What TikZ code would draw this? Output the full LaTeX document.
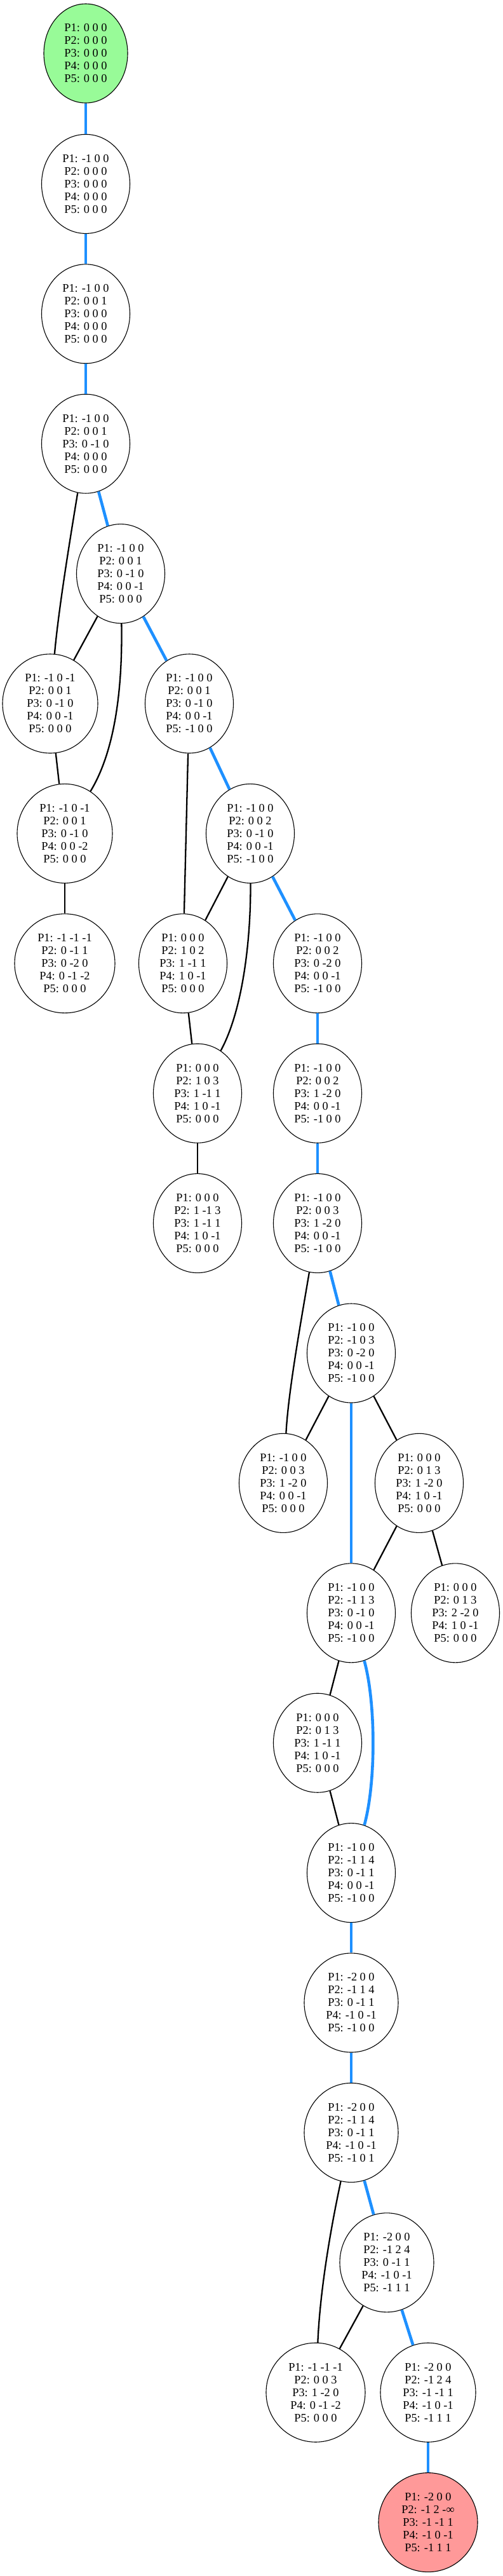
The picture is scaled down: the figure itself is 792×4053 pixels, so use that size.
\documentclass[tikz,border=0pt]{standalone}
\usepackage{fontspec}
\setmainfont{Liberation Serif}
\usetikzlibrary{shapes.geometric}
\definecolor{edgeblue}{HTML}{1E90FF}
\definecolor{startgreen}{HTML}{98FB98}
\definecolor{endred}{HTML}{FF9999}
\begin{document}
\begin{tikzpicture}[x=1pt,y=-1pt,
  st/.style={ellipse, draw=black, line width=1.1pt, fill=white, inner sep=0pt,
    minimum height=156pt, minimum width=139pt, align=center,
    font=\fontsize{18.3}{20}\selectfont},
  wa/.style={minimum width=132pt},
  wb/.style={minimum width=148pt},
  wc/.style={minimum width=150pt},
  wd/.style={minimum width=156pt},
  we/.style={minimum width=158pt},
  bl/.style={draw=edgeblue, line width=4.6pt},
  bk/.style={draw=black, line width=2.3pt}]
\useasboundingbox (0,0) rectangle (792,4053);
% nodes
\node[st,wa,fill=startgreen] (N1) at (135,84) {P1: 0 0 0\\P2: 0 0 0\\P3: 0 0 0\\P4: 0 0 0\\P5: 0 0 0};
\node[st] (N2) at (135,289.4) {P1: -1 0 0\\P2: 0 0 0\\P3: 0 0 0\\P4: 0 0 0\\P5: 0 0 0};
\node[st] (N3) at (135,493.8) {P1: -1 0 0\\P2: 0 0 1\\P3: 0 0 0\\P4: 0 0 0\\P5: 0 0 0};
\node[st] (N4) at (135,698.2) {P1: -1 0 0\\P2: 0 0 1\\P3: 0 -1 0\\P4: 0 0 0\\P5: 0 0 0};
\node[st] (N5) at (190,902.6) {P1: -1 0 0\\P2: 0 0 1\\P3: 0 -1 0\\P4: 0 0 -1\\P5: 0 0 0};
\node[st,wc] (N6) at (79,1107) {P1: -1 0 -1\\P2: 0 0 1\\P3: 0 -1 0\\P4: 0 0 -1\\P5: 0 0 0};
\node[st] (N7) at (298,1107) {P1: -1 0 0\\P2: 0 0 1\\P3: 0 -1 0\\P4: 0 0 -1\\P5: -1 0 0};
\node[st,wc] (N8) at (102,1311.4) {P1: -1 0 -1\\P2: 0 0 1\\P3: 0 -1 0\\P4: 0 0 -2\\P5: 0 0 0};
\node[st] (N9) at (394,1311.4) {P1: -1 0 0\\P2: 0 0 2\\P3: 0 -1 0\\P4: 0 0 -1\\P5: -1 0 0};
\node[st,we] (N11) at (102,1515.8) {P1: -1 -1 -1\\P2: 0 -1 1\\P3: 0 -2 0\\P4: 0 -1 -2\\P5: 0 0 0};
\node[st] (N10) at (288,1515.8) {P1: 0 0 0\\P2: 1 0 2\\P3: 1 -1 1\\P4: 1 0 -1\\P5: 0 0 0};
\node[st] (R0) at (500,1515.8) {P1: -1 0 0\\P2: 0 0 2\\P3: 0 -2 0\\P4: 0 0 -1\\P5: -1 0 0};
\node[st] (M1) at (311,1720.2) {P1: 0 0 0\\P2: 1 0 3\\P3: 1 -1 1\\P4: 1 0 -1\\P5: 0 0 0};
\node[st] (R1) at (500,1720.2) {P1: -1 0 0\\P2: 0 0 2\\P3: 1 -2 0\\P4: 0 0 -1\\P5: -1 0 0};
\node[st] (M2) at (311,1924.6) {P1: 0 0 0\\P2: 1 -1 3\\P3: 1 -1 1\\P4: 1 0 -1\\P5: 0 0 0};
\node[st] (R2) at (500,1924.6) {P1: -1 0 0\\P2: 0 0 3\\P3: 1 -2 0\\P4: 0 0 -1\\P5: -1 0 0};
\node[st] (R3) at (553,2129) {P1: -1 0 0\\P2: -1 0 3\\P3: 0 -2 0\\P4: 0 0 -1\\P5: -1 0 0};
\node[st] (L4) at (446,2333.4) {P1: -1 0 0\\P2: 0 0 3\\P3: 1 -2 0\\P4: 0 0 -1\\P5: 0 0 0};
\node[st] (R4) at (660,2333.4) {P1: 0 0 0\\P2: 0 1 3\\P3: 1 -2 0\\P4: 1 0 -1\\P5: 0 0 0};
\node[st] (R5) at (553,2537.8) {P1: -1 0 0\\P2: -1 1 3\\P3: 0 -1 0\\P4: 0 0 -1\\P5: -1 0 0};
\node[st] (RR5) at (717,2537.8) {P1: 0 0 0\\P2: 0 1 3\\P3: 2 -2 0\\P4: 1 0 -1\\P5: 0 0 0};
\node[st] (M6) at (500,2742.2) {P1: 0 0 0\\P2: 0 1 3\\P3: 1 -1 1\\P4: 1 0 -1\\P5: 0 0 0};
\node[st] (R7) at (553,2946.6) {P1: -1 0 0\\P2: -1 1 4\\P3: 0 -1 1\\P4: 0 0 -1\\P5: -1 0 0};
\node[st,wb] (R8) at (553,3151) {P1: -2 0 0\\P2: -1 1 4\\P3: 0 -1 1\\P4: -1 0 -1\\P5: -1 0 0};
\node[st,wb] (R9) at (553,3355.4) {P1: -2 0 0\\P2: -1 1 4\\P3: 0 -1 1\\P4: -1 0 -1\\P5: -1 0 1};
\node[st,wb] (R10) at (609,3559.8) {P1: -2 0 0\\P2: -1 2 4\\P3: 0 -1 1\\P4: -1 0 -1\\P5: -1 1 1};
\node[st,wd] (L11) at (497,3764.2) {P1: -1 -1 -1\\P2: 0 0 3\\P3: 1 -2 0\\P4: 0 -1 -2\\P5: 0 0 0};
\node[st,wc] (R11) at (674,3764.2) {P1: -2 0 0\\P2: -1 2 4\\P3: -1 -1 1\\P4: -1 0 -1\\P5: -1 1 1};
\node[st,wd,fill=endred] (Red) at (674,3968.6) {P1: -2 0 0\\P2: -1 2 -∞\\P3: -1 -1 1\\P4: -1 0 -1\\P5: -1 1 1};
% blue path
\draw[bl] (N1) -- (N2);
\draw[bl] (N2) -- (N3);
\draw[bl] (N3) -- (N4);
\draw[bl] (N4) -- (N5);
\draw[bl] (N5) -- (N7);
\draw[bl] (N7) -- (N9);
\draw[bl] (N9) -- (R0);
\draw[bl] (R0) -- (R1);
\draw[bl] (R1) -- (R2);
\draw[bl] (R2) -- (R3);
\draw[bl] (R3) -- (R5);
\draw[bl] (R5) .. controls (592,2680) and (592,2805) .. (R7);
\draw[bl] (R7) -- (R8);
\draw[bl] (R8) -- (R9);
\draw[bl] (R9) -- (R10);
\draw[bl] (R10) -- (R11);
\draw[bl] (R11) -- (Red);
% black edges
\draw[bk] (N4) .. controls (110,850) and (92,960) .. (N6);
\draw[bk] (N5) -- (N6);
\draw[bk] (N5) .. controls (193,1080) and (182,1180) .. (N8);
\draw[bk] (N6) -- (N8);
\draw[bk] (N8) -- (N11);
\draw[bk] (N7) -- (N10);
\draw[bk] (N9) -- (N10);
\draw[bk] (N9) .. controls (395,1480) and (382,1590) .. (M1);
\draw[bk] (N10) -- (M1);
\draw[bk] (M1) -- (M2);
\draw[bk] (R2) .. controls (472,2090) and (454,2190) .. (L4);
\draw[bk] (R3) -- (L4);
\draw[bk] (R3) -- (R4);
\draw[bk] (R4) -- (R5);
\draw[bk] (R4) -- (RR5);
\draw[bk] (R5) -- (M6);
\draw[bk] (M6) -- (R7);
\draw[bk] (R9) .. controls (522,3500) and (504,3600) .. (L11);
\draw[bk] (R10) -- (L11);
\end{tikzpicture}
\end{document}
